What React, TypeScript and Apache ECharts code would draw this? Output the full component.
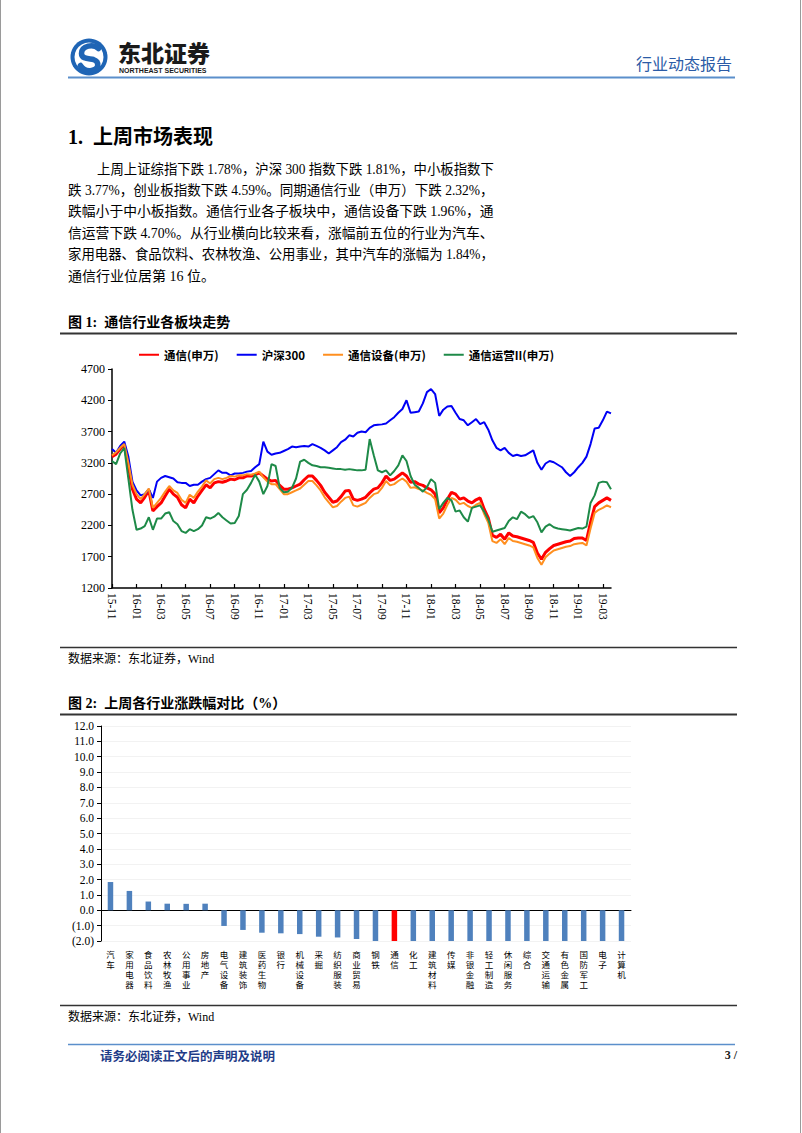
import React, { useEffect, useRef } from 'react';
import * as echarts from 'echarts';

// ---------------- Figure 1: 通信行业各板块走势 ----------------
const tickMonths = ['15-11', '16-01', '16-03', '16-05', '16-07', '16-09', '16-11', '17-01', '17-03', '17-05', '17-07', '17-09', '17-11', '18-01', '18-03', '18-05', '18-07', '18-09', '18-11', '19-01', '19-03'];
const POINTS_PER_TICK = 6;

const telecomSW = [
  3300, 3340, 3420, 3490, 3150, 2780, 2620, 2560, 2650, 2760, 2430, 2500, 2560, 2670, 2780, 2700, 2650, 2530, 2480, 2620,
  2560, 2670, 2760, 2850, 2800, 2880, 2900, 2890, 2910, 2940, 2930, 2960, 2960, 2990, 2990, 3010, 3040, 2990, 2940, 2910,
  2920, 2840, 2780, 2780, 2800, 2830, 2860, 2930, 2990, 2990, 2920, 2840, 2730, 2650, 2570, 2590, 2660, 2750, 2760, 2620,
  2600, 2620, 2650, 2720, 2780, 2800, 2880, 2990, 2920, 2940, 2990, 3040, 2990, 2890, 2900, 2860, 2840, 2800, 2770, 2700,
  2400, 2480, 2620, 2730, 2700, 2620, 2640, 2590, 2560, 2610, 2640, 2460, 2320, 2040, 2010, 2060, 1980, 2080, 2030, 2020,
  2000, 1980, 1960, 1930, 1760, 1660, 1770, 1830, 1880, 1900, 1920, 1940, 1950, 1990, 2000, 2000, 1960, 2250, 2500, 2560,
  2600, 2640, 2600,
];
const hs300 = [
  3420, 3360, 3470, 3540, 3300, 2900, 2760, 2680, 2700, 2780, 2640, 2900, 2960, 2990, 2970, 2950, 2890, 2880, 2880, 2830,
  2850, 2850, 2900, 2940, 2960, 3020, 3080, 3040, 3040, 3000, 3030, 3030, 3040, 3060, 3070, 3130, 3180, 3540, 3380, 3330,
  3350, 3360, 3390, 3420, 3460, 3450, 3460, 3470, 3460, 3500, 3470, 3440, 3400, 3350, 3400, 3450, 3530, 3570, 3640, 3620,
  3680, 3700, 3690, 3760, 3800, 3810, 3815, 3830, 3880, 3930, 4000, 4060, 4200, 4000, 4010, 4020, 4150, 4330, 4380, 4300,
  3950, 4050, 4100, 4110, 4000, 3900, 3880, 3800, 3850, 3900, 3820, 3850, 3730, 3560, 3440, 3400, 3440, 3360, 3310, 3330,
  3310, 3320, 3360, 3400, 3200, 3090, 3190, 3230, 3210, 3170, 3130, 3050, 2990, 3050, 3130, 3200, 3300, 3500, 3750, 3760,
  3880, 4020, 3990,
];
const telecomEquip = [
  3320, 3370, 3440, 3500, 3200, 2850, 2700, 2620, 2700, 2790, 2480, 2560, 2640, 2740, 2830, 2760, 2720, 2610, 2560, 2690,
  2640, 2740, 2820, 2920, 2870, 2940, 2960, 2940, 2960, 2990, 2980, 3000, 3000, 3020, 3010, 3030, 3060, 2970, 2900, 2860,
  2860, 2780, 2700, 2700, 2730, 2760, 2790, 2850, 2910, 2910, 2840, 2760, 2650, 2570, 2490, 2510, 2580, 2640, 2660, 2520,
  2500, 2530, 2560, 2640, 2700, 2720, 2800, 2910, 2840, 2860, 2910, 2950, 2900, 2800, 2810, 2780, 2760, 2720, 2690, 2620,
  2310, 2390, 2530, 2640, 2610, 2540, 2560, 2510, 2480, 2530, 2560, 2380, 2240, 1950, 1920, 1980, 1900, 2000, 1950, 1940,
  1920, 1900, 1880, 1850, 1680, 1570, 1690, 1750, 1800, 1820, 1840, 1860, 1870, 1900, 1910, 1920, 1880, 2150, 2400, 2450,
  2480, 2520, 2490,
];
const telecomOper = [
  3230, 3180, 3350, 3440, 2950, 2450, 2130, 2150, 2190, 2330, 2130, 2310, 2310, 2390, 2410, 2270, 2220, 2110, 2080, 2140,
  2110, 2140, 2200, 2330, 2310, 2340, 2400, 2330, 2280, 2230, 2240, 2350, 2700, 2770, 2880, 3010, 2900, 2700, 2830, 3180,
  3150, 2800, 2730, 2740, 2800, 2950, 3220, 3250, 3200, 3160, 3150, 3130, 3130, 3120, 3110, 3100, 3100, 3090, 3100, 3090,
  3080, 3080, 3090, 3580, 3320, 3080, 3050, 3080, 3000, 3070, 3160, 3320, 3230, 2990, 2850, 2800, 2740, 2810, 2940, 2880,
  2460, 2560, 2640, 2600, 2420, 2440, 2330, 2260, 2480, 2500, 2520, 2420, 2290, 2100, 2120, 2140, 2160, 2270, 2330, 2300,
  2420, 2380, 2320, 2350, 2250, 2090, 2180, 2220, 2170, 2150, 2140, 2130, 2120, 2140, 2160, 2150, 2180, 2560, 2680, 2880,
  2900, 2890, 2780,
];
const seriesNames = ['通信(申万)', '沪深300', '通信设备(申万)', '通信运营II(申万)'];

// ---------------- Figure 2: 上周各行业涨跌幅对比 ----------------
const industries = ['汽车', '家用电器', '食品饮料', '农林牧渔', '公用事业', '房地产', '电气设备', '建筑装饰', '医药生物', '银行', '机械设备', '采掘', '纺织服装', '商业贸易', '钢铁', '通信', '化工', '建筑材料', '传媒', '非银金融', '轻工制造', '休闲服务', '综合', '交通运输', '有色金属', '国防军工', '电子', '计算机'];
const weeklyChange = [1.84, 1.26, 0.57, 0.43, 0.42, 0.43, -1.02, -1.28, -1.46, -1.5, -1.55, -1.72, -1.77, -1.87, -2.1, -2.32, -2.45, -2.61, -2.78, -2.93, -3.05, -3.18, -3.31, -3.47, -3.62, -3.8, -4.15, -4.74];
const highlightIndustry = '通信';

// ---------------- text ----------------
const paragraph = [
  '上周上证综指下跌 1.78%，沪深 300 指数下跌 1.81%，中小板指数下',
  '跌 3.77%，创业板指数下跌 4.59%。同期通信行业（申万）下跌 2.32%，',
  '跌幅小于中小板指数。通信行业各子板块中，通信设备下跌 1.96%，通',
  '信运营下跌 4.70%。从行业横向比较来看，涨幅前五位的行业为汽车、',
  '家用电器、食品饮料、农林牧渔、公用事业，其中汽车的涨幅为 1.84%，',
  '通信行业位居第 16 位。',
];

const CJK = '"Noto Sans CJK SC", sans-serif';
const MIX = '"Liberation Serif", "Times New Roman", "Noto Sans CJK SC", serif';
const SERIF = '"Liberation Serif", "Times New Roman", serif';

echarts.graphic.registerShape(
  'logoS',
  echarts.graphic.extendPath('M29 11 C24 6 12 8 12 16 C12 22 20 21 24 22 C30 24 30 32 22 33 C17 34 13 31 11 28', {})
);

let measureCtx: CanvasRenderingContext2D | null = null;
function textWidth(text: string, size: number, family: string, weight = 'normal') {
  if (!measureCtx) measureCtx = document.createElement('canvas').getContext('2d');
  if (!measureCtx) return 1;
  measureCtx.font = `${weight} ${size}px ${family}`;
  return measureCtx.measureText(text).width || 1;
}

function txt(text: string, x: number, y: number, size: number, o: any = {}) {
  const align = o.align || 'left';
  return {
    type: 'text',
    x,
    y,
    scaleX: o.scaleX || 1,
    silent: true,
    style: {
      text,
      x: 0,
      y: 0,
      fontSize: size,
      fontFamily: o.family || MIX,
      fontWeight: o.weight || 'normal',
      fill: o.color || '#000',
      align,
      textAlign: align,
      verticalAlign: 'middle',
      textVerticalAlign: 'middle',
    },
  };
}

function hline(x1: number, x2: number, y: number, color: string, w: number) {
  return { type: 'line', silent: true, shape: { x1, y1: y, x2, y2: y }, style: { stroke: color, lineWidth: w } };
}

export default function App() {
  const ref = useRef<HTMLDivElement>(null);

  useEffect(() => {
    if (!ref.current) return;
    const chart = echarts.init(ref.current, null, { renderer: 'svg' });

    const dateCats = telecomSW.map((_, i) =>
      i % POINTS_PER_TICK === 0 ? tickMonths[i / POINTS_PER_TICK] : `${tickMonths[Math.floor(i / POINTS_PER_TICK)]}·${i % POINTS_PER_TICK}`
    );

    // paragraph lines (justified by stretching to the column width)
    const paraSize = 14;
    const paraY = [169, 190.4, 211.8, 233.2, 254.6, 276];
    const paraEls = paragraph.map((line, i) => {
      const x = i === 0 ? 97 : 68;
      const target = 494 - x;
      const w = textWidth(line, paraSize, MIX);
      const scaleX = i === paragraph.length - 1 ? 1 : target / w;
      return txt(line, x, paraY[i], paraSize, { scaleX });
    });

    const graphic: any[] = [
      // page border
      { type: 'line', silent: true, shape: { x1: 0.5, y1: 0, x2: 0.5, y2: 1133 }, style: { stroke: '#9a9a9a', lineWidth: 1 } },
      { type: 'line', silent: true, shape: { x1: 800.5, y1: 0, x2: 800.5, y2: 1133 }, style: { stroke: '#9a9a9a', lineWidth: 1 } },
      // header logo
      { type: 'circle', silent: true, shape: { cx: 89, cy: 57, r: 18.5 }, style: { fill: '#1F65B5' } },
      { type: 'circle', silent: true, shape: { cx: 89, cy: 57, r: 14.5 }, style: { fill: '#ffffff' } },
      { type: 'logoS', silent: true, x: 69.5, y: 37.5, scaleX: 1, scaleY: 1, style: { fill: 'none', stroke: '#1F65B5', lineWidth: 5.5, lineCap: 'round' } },
      txt('东北证券', 118, 52, 23, { family: CJK, weight: 900, color: '#1a1a1a' }),
      txt('NORTHEAST SECURITIES', 119, 70.5, 7, { family: '"Liberation Sans", Arial, sans-serif', weight: 'bold', color: '#1a1a1a' }),
      txt('行业动态报告', 732, 63, 16, { family: CJK, color: '#2B5BA6', align: 'right' }),
      hline(68, 735, 77.5, '#5B8FCB', 2),
      // section title and paragraph
      txt('1.  上周市场表现', 68, 137, 20, { weight: 'bold' }),
      ...paraEls,
      // figure 1 frame
      txt('图 1:  通信行业各板块走势', 68, 322, 14, { weight: 'bold' }),
      hline(60, 737, 333.5, '#333', 1.8),
      hline(60, 737, 647.5, '#333', 1.5),
      txt('数据来源：东北证券，Wind', 68, 659, 12),
      // figure 2 frame
      txt('图 2:  上周各行业涨跌幅对比（%）', 68, 703, 14, { weight: 'bold' }),
      hline(60, 737, 714.5, '#333', 1.8),
      hline(60, 737, 1005.5, '#333', 1.5),
      txt('数据来源：东北证券，Wind', 68, 1017, 12),
      // footer
      hline(68, 735, 1044.5, '#5B8FCB', 1.5),
      txt('请务必阅读正文后的声明及说明', 100, 1055, 12.5, { family: CJK, weight: 'bold', color: '#1F3C88' }),
      txt('3 /', 737, 1055, 12, { weight: 'bold', align: 'right', color: '#1a1a1a' }),
    ];

    const lineColors = ['#FF0000', '#0000F5', '#FF8F1F', '#1E8A48'];
    const lineWidths = [3, 2, 2, 2];
    const lineData = [telecomSW, hs300, telecomEquip, telecomOper];

    const option: any = {
      animation: false,
      backgroundColor: '#ffffff',
      legend: {
        data: seriesNames,
        left: 133,
        top: 344,
        itemWidth: 20,
        itemHeight: 10,
        itemGap: 17,
        itemStyle: { opacity: 0 },
        textStyle: { fontSize: 11.5, fontWeight: 'bold', fontFamily: CJK, color: '#000' },
      },
      grid: [
        { left: 112, top: 369, width: 499, height: 219 },
        { left: 101, top: 726, width: 530, height: 215 },
      ],
      xAxis: [
        {
          gridIndex: 0,
          type: 'category',
          data: dateCats,
          boundaryGap: false,
          axisLine: { lineStyle: { color: '#000', width: 1.5 } },
          axisTick: { inside: true, length: 4, interval: POINTS_PER_TICK - 1, lineStyle: { color: '#000', width: 1.2 } },
          axisLabel: {
            interval: POINTS_PER_TICK - 1,
            rotate: -90,
            margin: 5,
            fontSize: 11.5,
            fontFamily: SERIF,
            color: '#000',
            formatter: (v: string) => (v.indexOf('·') >= 0 ? '' : v),
          },
          splitLine: { show: false },
        },
        {
          gridIndex: 1,
          type: 'category',
          data: industries,
          position: 'bottom',
          axisLine: { onZero: true, lineStyle: { color: '#000', width: 1 } },
          axisTick: { show: false },
          axisLabel: { show: false },
          splitLine: { show: false },
        },
        {
          gridIndex: 1,
          type: 'category',
          data: industries,
          position: 'bottom',
          axisLine: { show: false, onZero: false },
          axisTick: { show: false },
          axisLabel: {
            interval: 0,
            margin: 9,
            fontSize: 8.5,
            lineHeight: 10,
            fontFamily: MIX,
            color: '#000',
            verticalAlign: 'top',
            formatter: (v: string) => v.split('').join('\n'),
          },
          splitLine: { show: false },
        },
      ],
      yAxis: [
        {
          gridIndex: 0,
          type: 'value',
          min: 1200,
          max: 4700,
          interval: 500,
          axisLine: { show: true, lineStyle: { color: '#000', width: 1.5 } },
          axisTick: { show: true, length: 4, lineStyle: { color: '#000' } },
          axisLabel: { margin: 7, fontSize: 12, fontFamily: SERIF, color: '#000', formatter: (v: number) => String(v) },
          splitLine: { show: false },
        },
        {
          gridIndex: 1,
          type: 'value',
          min: -2,
          max: 12,
          interval: 1,
          axisLine: { show: true, lineStyle: { color: '#000', width: 1 } },
          axisTick: { show: true, length: 4, lineStyle: { color: '#000' } },
          axisLabel: {
            margin: 7,
            fontSize: 11.5,
            fontFamily: SERIF,
            color: '#000',
            formatter: (v: number) => (v < 0 ? `(${Math.abs(v).toFixed(1)})` : v.toFixed(1)),
          },
          splitLine: { show: true, lineStyle: { color: '#F2F2F2', width: 1 } },
        },
      ],
      series: [
        ...lineData.map((d, k) => ({
          name: seriesNames[k],
          type: 'line',
          xAxisIndex: 0,
          yAxisIndex: 0,
          data: d,
          symbol: 'none',
          showSymbol: false,
          lineStyle: { color: lineColors[k], width: lineWidths[k] },
          itemStyle: { color: lineColors[k] },
          z: 2 + k,
        })),
        {
          name: '涨跌幅',
          type: 'bar',
          xAxisIndex: 1,
          yAxisIndex: 1,
          barWidth: 5.5,
          clip: true,
          data: weeklyChange.map((v, i) =>
            industries[i] === highlightIndustry ? { value: v, itemStyle: { color: '#FF0000' } } : v
          ),
          itemStyle: { color: '#4F81BD' },
        },
      ],
      graphic,
    };

    chart.setOption(option);
    return () => chart.dispose();
  }, []);

  return (
    <div
      ref={ref}
      style={{ position: 'absolute', left: 0, top: 0, width: 802, height: 1133, background: '#fff' }}
    />
  );
}
